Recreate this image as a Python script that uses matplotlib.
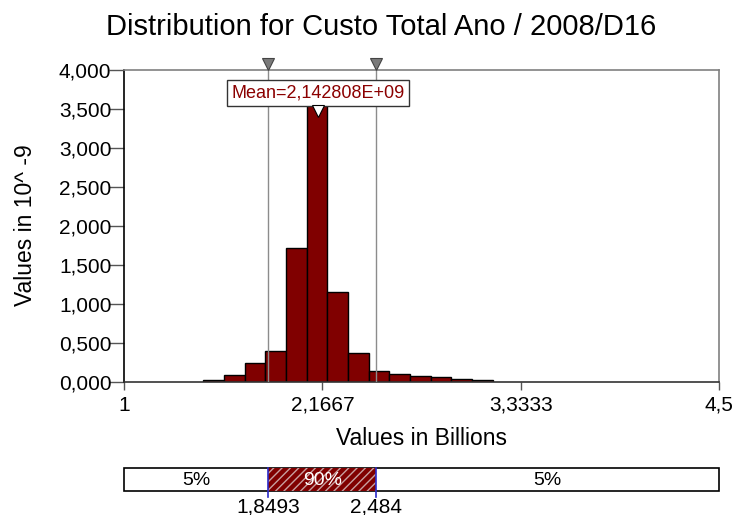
import numpy as np
import matplotlib
matplotlib.use("Agg")
import matplotlib.pyplot as plt
from matplotlib.patches import Rectangle

plt.rcParams["font.family"] = ["Liberation Sans", "DejaVu Sans"]

# histogram of simulated totals (values in billions, density in 10^-9)
bin_start = 1.4665
bin_width = 0.1216
density = [0.020, 0.086, 0.244, 0.390, 1.707, 3.830, 1.155,
           0.364, 0.141, 0.103, 0.073, 0.056, 0.034, 0.022]

mean_value = 2.142808
q05 = 1.8493
q95 = 2.484
mean_text = "Mean=2,142808E+09"

x_ticks = [1, 2.1667, 3.3333, 4.5]
x_tick_labels = ["1", "2,1667", "3,3333", "4,5"]
y_ticks = [0, 0.5, 1, 1.5, 2, 2.5, 3, 3.5, 4]
y_tick_labels = ["0,000", "0,500", "1,000", "1,500", "2,000",
                 "2,500", "3,000", "3,500", "4,000"]

band_labels = ["5%", "90%", "5%"]
q_labels = ["1,8493", "2,484"]

bar_red = "#800000"

fig = plt.figure(figsize=(7.35, 5.15), dpi=100)
ax = fig.add_axes([0.1687, 0.2588, 0.8095, 0.6062])

edges = bin_start + bin_width * np.arange(len(density))
ax.bar(edges, density, width=bin_width, align="edge",
       color=bar_red, edgecolor="black", linewidth=1.0, zorder=2)

ax.set_xlim(1, 4.5)
ax.set_ylim(0, 4)
ax.set_xticks(x_ticks)
ax.set_xticklabels(x_tick_labels)
ax.set_yticks(y_ticks)
ax.set_yticklabels(y_tick_labels)
ax.tick_params(axis="y", direction="out", length=11, width=1, color="#555555",
               labelsize=15, pad=-2)
ax.tick_params(axis="x", direction="out", length=6, width=1, color="#555555",
               labelsize=15, pad=4)

for side in ("top", "right"):
    ax.spines[side].set_color("#808080")
ax.spines["left"].set_color("black")
ax.spines["bottom"].set_color("#333333")
for s in ax.spines.values():
    s.set_linewidth(1.2)

# 5% / 95% delimiters with the grey markers above the frame
for q in (q05, q95):
    ax.axvline(q, color="#8c8c8c", linewidth=1.0, zorder=3)
    ax.plot([q], [4.075], marker="v", markersize=9, color="#7a7a7a",
            markeredgecolor="#444444", markeredgewidth=0.8, clip_on=False,
            zorder=5)

# mean label with its pointer
ax.text(mean_value, 3.70, mean_text, ha="center", va="center", fontsize=13,
        color="#8b0000", zorder=6,
        bbox=dict(boxstyle="square,pad=0.25", facecolor="white",
                  edgecolor="#333333", linewidth=1.0))
ax.plot([mean_value], [3.47], marker="v", markersize=8, color="white",
        markeredgecolor="black", markeredgewidth=0.8, zorder=7, clip_on=False)

fig.suptitle("Distribution for Custo Total Ano / 2008/D16", fontsize=21,
             x=0.518, y=0.948, va="center")
ax.set_xlabel("Values in Billions", fontsize=16.5, labelpad=9)
ax.set_ylabel("Values in 10^ -9", fontsize=16.5, labelpad=16)

# percentile band below the chart
bx = fig.add_axes([0.1687, 0.0466, 0.8095, 0.0452])
bx.set_xlim(1, 4.5)
bx.set_ylim(0, 1)
bx.axis("off")
bx.add_patch(Rectangle((1, 0), 3.5, 1, facecolor="white", edgecolor="black",
                       linewidth=1.2, clip_on=False))
bx.add_patch(Rectangle((q05, 0), q95 - q05, 1, facecolor=bar_red,
                       edgecolor="none", zorder=2))
bx.add_patch(Rectangle((q05, 0), q95 - q05, 1, fill=False, hatch="////",
                       edgecolor="#c8a0a0", linewidth=0, zorder=3))
for q in (q05, q95):
    bx.plot([q, q], [-0.25, 1], color="#2a2ac8", linewidth=1.2, zorder=4,
            clip_on=False)

centers = [(1 + q05) / 2, (q05 + q95) / 2, (q95 + 4.5) / 2]
colors = ["black", "white", "black"]
for cx, lab, c in zip(centers, band_labels, colors):
    bx.text(cx, 0.45, lab, ha="center", va="center", fontsize=14, color=c,
            zorder=5)
for q, lab in zip((q05, q95), q_labels):
    bx.text(q, -0.68, lab, ha="center", va="center", fontsize=15)

fig.savefig("out.png", dpi=100)
